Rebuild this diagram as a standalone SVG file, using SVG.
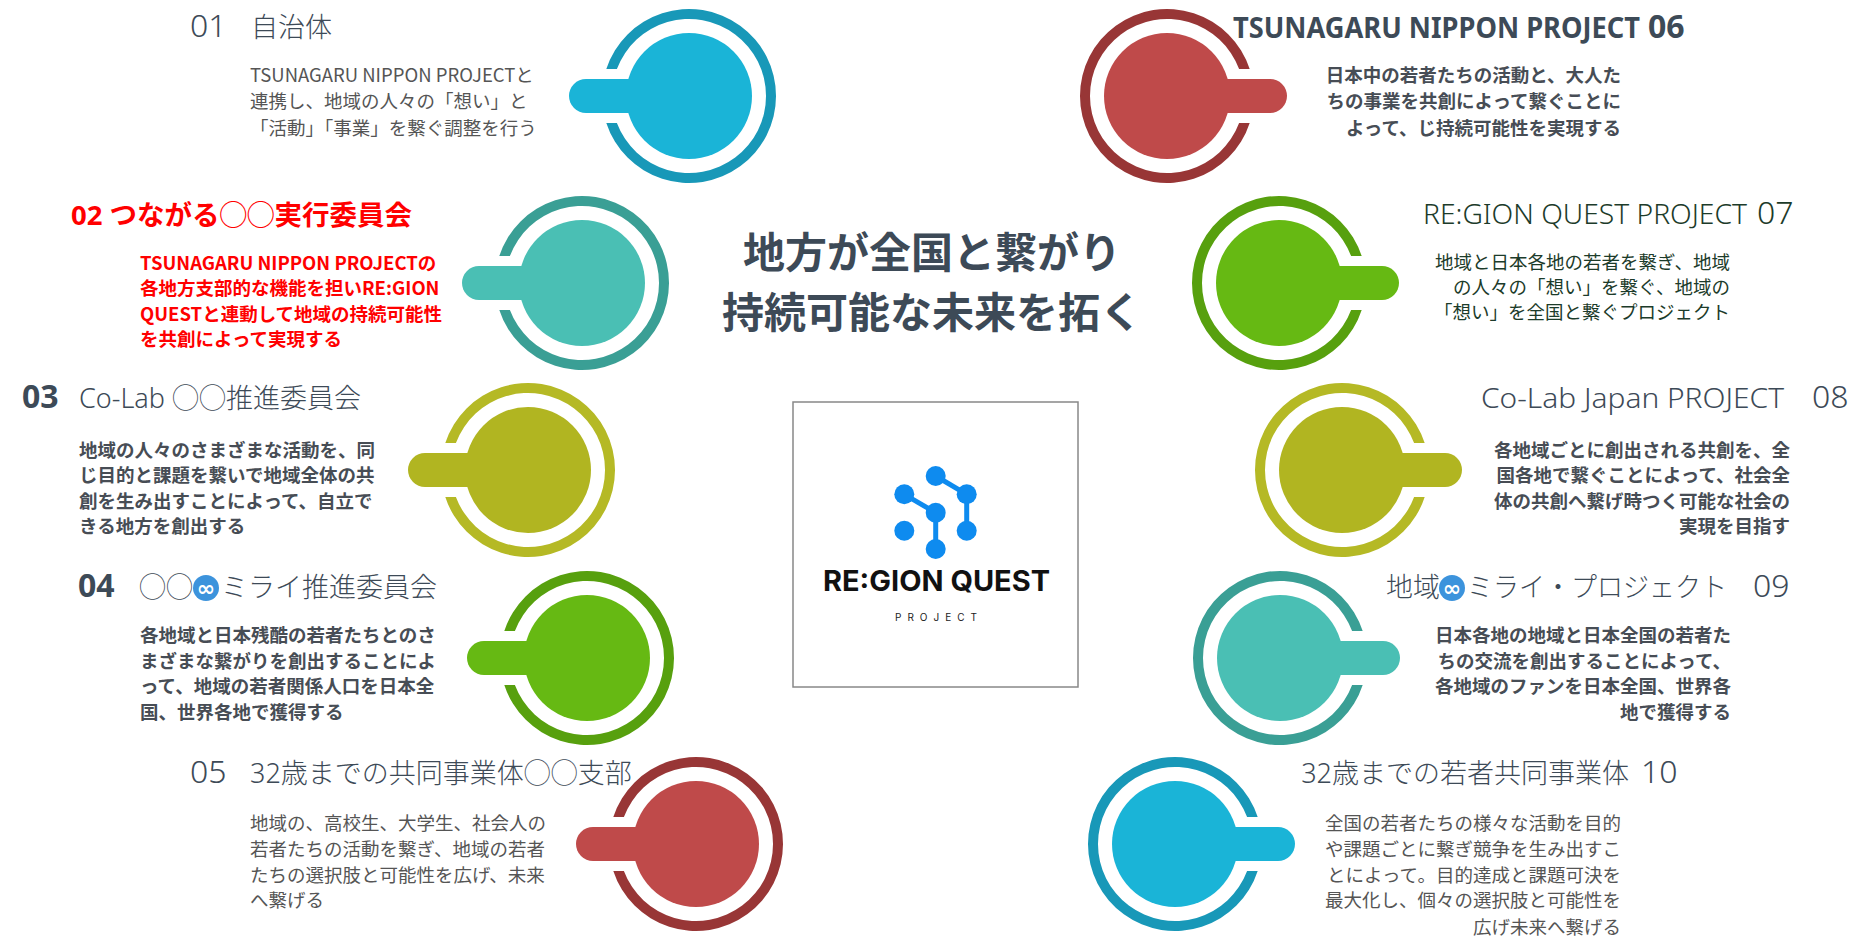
<svg xmlns="http://www.w3.org/2000/svg" width="1875" height="944" viewBox="0 0 1875 944">
<style>
.t{font-family:"Noto Sans","Noto Sans CJK JP",sans-serif}
.ttl{font-size:27px;fill:#3D4A57;font-weight:300}
.num{font-size:32px;fill:#3D4A57;font-weight:300}
.b{font-weight:700}
.d{font-family:"Noto Sans CJK JP","Noto Sans",sans-serif;font-size:18.5px;fill:#555;font-weight:400}
.db{font-weight:700;fill:#474D55}
.red{fill:#FF0000;font-weight:700}
.grn{fill:#1C3B2A}
.e{text-anchor:end}
.m{text-anchor:middle}
.ic{fill:#3C93DC}
.inf{font-family:"DejaVu Sans",sans-serif;font-size:22px;font-weight:700;fill:#fff;text-anchor:middle}
</style>
<defs>
<path id="ring" d="M-82.7,-27A87,87 0 1 1 -82.7,27L-72.1,27A77,77 0 1 0 -72.1,-27Z"/>
<g id="knob"><circle r="63"/><path d="M0,-17H-103A17,17 0 0 0 -103,17H0Z"/></g>
</defs>
<rect width="1875" height="944" fill="#fff"/>

<g id="connectors"></g>

<g id="center">
<text class="t b m" x="932" y="268" font-size="42" fill="#3D4A57">地方が全国と繋がり</text>
<text class="t b m" x="932" y="328" font-size="42" fill="#3D4A57">持続可能な未来を拓く</text>
</g>

<g id="logo">
<rect x="793" y="402" width="285" height="285" fill="#fff" stroke="#888" stroke-width="1.5"/>
<g stroke="#0E8BEF" stroke-width="5" fill="none">
<line x1="904.3" y1="494.3" x2="935.7" y2="512.7"/>
<line x1="935.7" y1="476" x2="966.7" y2="494.3"/>
<line x1="966.7" y1="494.3" x2="966.7" y2="530.7"/>
<line x1="935.7" y1="512.7" x2="935.7" y2="549"/>
</g>
<g fill="#0E8BEF">
<circle cx="904.3" cy="494.3" r="10"/>
<circle cx="935.7" cy="476" r="10"/>
<circle cx="966.7" cy="494.3" r="10"/>
<circle cx="935.7" cy="512.7" r="10"/>
<circle cx="904.3" cy="530.7" r="10"/>
<circle cx="966.7" cy="530.7" r="10"/>
<circle cx="935.7" cy="549" r="10"/>
</g>
<text x="823" y="591" font-family="Inter,'Noto Sans',sans-serif" font-weight="700" font-size="28" fill="#111" textLength="227" lengthAdjust="spacingAndGlyphs">RE:GION QUEST</text>
<text x="895" y="621" font-family="Inter,'Noto Sans',sans-serif" font-weight="400" font-size="10" fill="#222" textLength="82" lengthAdjust="spacing">PROJECT</text>
</g>

<g id="node01">
<g transform="translate(689,96)"><use href="#ring" fill="#1898B8"/><use href="#knob" fill="#1AB4D7"/></g>
<text class="t num" x="190" y="37">01</text>
<text class="t ttl" x="251" y="37">自治体</text>
<text class="d" x="250" y="82">TSUNAGARU NIPPON PROJECTと</text>
<text class="d" x="250" y="108">連携し、地域の人々の「想い」と</text>
<text class="d" x="250" y="135">「活動」「事業」を繋ぐ調整を行う</text>
</g>

<g id="node02">
<g transform="translate(582,283)"><use href="#ring" fill="#3A9F95"/><use href="#knob" fill="#4ABFB4"/></g>
<text class="t red" x="71" y="225" font-size="27.5">02 つながる◯◯実行委員会</text>
<text class="d red" x="140" y="270">TSUNAGARU NIPPON PROJECTの</text>
<text class="d red" x="140" y="295">各地方支部的な機能を担いRE:GION</text>
<text class="d red" x="140" y="321">QUESTと連動して地域の持続可能性</text>
<text class="d red" x="140" y="346">を共創によって実現する</text>
</g>

<g id="node03">
<g transform="translate(528,470)"><use href="#ring" fill="#B5B925"/><use href="#knob" fill="#B1B521"/></g>
<text class="t num b" x="22" y="408">03</text>
<text class="t ttl" x="79" y="408">Co-Lab ◯◯推進委員会</text>
<text class="d db" x="79" y="457">地域の人々のさまざまな活動を、同</text>
<text class="d db" x="79" y="482">じ目的と課題を繋いで地域全体の共</text>
<text class="d db" x="79" y="508">創を生み出すことによって、自立で</text>
<text class="d db" x="79" y="533">きる地方を創出する</text>
</g>

<g id="node04">
<g transform="translate(587,658)"><use href="#ring" fill="#57A00E"/><use href="#knob" fill="#66B913"/></g>
<text class="t num b" x="78" y="597">04</text>
<text class="t ttl" x="139" y="597">◯◯</text>
<circle class="ic" cx="206" cy="588" r="13"/>
<text class="inf" x="206" y="595.5">∞</text>
<text class="t ttl" x="221" y="597">ミライ推進委員会</text>
<text class="d db" x="140" y="642">各地域と日本残酷の若者たちとのさ</text>
<text class="d db" x="140" y="668">まざまな繋がりを創出することによ</text>
<text class="d db" x="140" y="693">って、地域の若者関係人口を日本全</text>
<text class="d db" x="140" y="719">国、世界各地で獲得する</text>
</g>

<g id="node05">
<g transform="translate(696,844)"><use href="#ring" fill="#983636"/><use href="#knob" fill="#BF4A4A"/></g>
<text class="t num" x="190" y="783">05</text>
<text class="t ttl" x="250" y="783">32歳までの共同事業体◯◯支部</text>
<text class="d" x="250" y="830">地域の、高校生、大学生、社会人の</text>
<text class="d" x="250" y="856">若者たちの活動を繋ぎ、地域の若者</text>
<text class="d" x="250" y="882">たちの選択肢と可能性を広げ、未来</text>
<text class="d" x="250" y="907">へ繋げる</text>
</g>

<g id="node06">
<g transform="translate(1167,96) scale(-1,1)"><use href="#ring" fill="#983636"/><use href="#knob" fill="#BF4A4A"/></g>
<text class="t b" x="1233" y="38" font-size="28" fill="#3D4A57" textLength="407" lengthAdjust="spacingAndGlyphs">TSUNAGARU NIPPON PROJECT</text>
<text class="t num b" x="1648" y="38">06</text>
<text class="d db e" x="1621" y="82">日本中の若者たちの活動と、大人た</text>
<text class="d db e" x="1621" y="108">ちの事業を共創によって繋ぐことに</text>
<text class="d db e" x="1621" y="135">よって、じ持続可能性を実現する</text>
</g>

<g id="node07">
<g transform="translate(1279,283) scale(-1,1)"><use href="#ring" fill="#57A00E"/><use href="#knob" fill="#66B913"/></g>
<text class="t grn" x="1423" y="224" font-size="28" font-weight="300" textLength="324" lengthAdjust="spacingAndGlyphs">RE:GION QUEST PROJECT</text>
<text class="t num grn" x="1757" y="224">07</text>
<text class="d grn e" x="1730" y="269">地域と日本各地の若者を繋ぎ、地域</text>
<text class="d grn e" x="1730" y="294">の人々の「想い」を繋ぐ、地域の</text>
<text class="d grn e" x="1730" y="319">「想い」を全国と繋ぐプロジェクト</text>
</g>

<g id="node08">
<g transform="translate(1342,470) scale(-1,1)"><use href="#ring" fill="#B5B925"/><use href="#knob" fill="#B1B521"/></g>
<text class="t ttl" x="1481" y="408" textLength="303" lengthAdjust="spacingAndGlyphs">Co-Lab Japan PROJECT</text>
<text class="t num" x="1812" y="408">08</text>
<text class="d db e" x="1790" y="457">各地域ごとに創出される共創を、全</text>
<text class="d db e" x="1790" y="482">国各地で繋ぐことによって、社会全</text>
<text class="d db e" x="1790" y="508">体の共創へ繋げ時つく可能な社会の</text>
<text class="d db e" x="1790" y="533">実現を目指す</text>
</g>

<g id="node09">
<g transform="translate(1280,658) scale(-1,1)"><use href="#ring" fill="#3A9F95"/><use href="#knob" fill="#4ABFB4"/></g>
<text class="t ttl" x="1386" y="597" font-size="26.5">地域</text>
<circle class="ic" cx="1452" cy="588" r="13"/>
<text class="inf" x="1452" y="595.5">∞</text>
<text class="t ttl" x="1467" y="597" font-size="26" textLength="260" lengthAdjust="spacingAndGlyphs">ミライ・プロジェクト</text>
<text class="t num" x="1753" y="597">09</text>
<text class="d db e" x="1731" y="642">日本各地の地域と日本全国の若者た</text>
<text class="d db e" x="1731" y="668">ちの交流を創出することによって、</text>
<text class="d db e" x="1731" y="693">各地域のファンを日本全国、世界各</text>
<text class="d db e" x="1731" y="719">地で獲得する</text>
</g>

<g id="node10">
<g transform="translate(1175,844) scale(-1,1)"><use href="#ring" fill="#1898B8"/><use href="#knob" fill="#1AB4D7"/></g>
<text class="t ttl e" x="1629" y="783">32歳までの若者共同事業体</text>
<text class="t num" x="1641" y="783">10</text>
<text class="d e" x="1621" y="830">全国の若者たちの様々な活動を目的</text>
<text class="d e" x="1621" y="856">や課題ごとに繋ぎ競争を生み出すこ</text>
<text class="d e" x="1621" y="882">とによって。目的達成と課題可決を</text>
<text class="d e" x="1621" y="907">最大化し、個々の選択肢と可能性を</text>
<text class="d e" x="1621" y="934">広げ未来へ繋げる</text>
</g>
</svg>
